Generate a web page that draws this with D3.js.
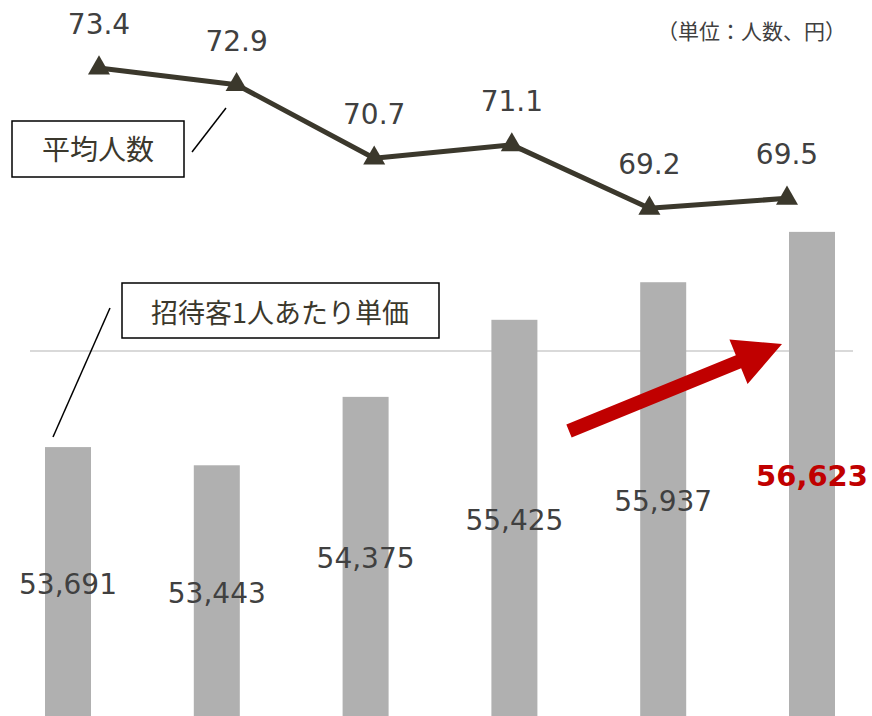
<!DOCTYPE html>
<html>
<head>
<meta charset="utf-8">
<script src="https://cdn.jsdelivr.net/npm/d3@7"></script>
<style>
  html, body { margin: 0; padding: 0; background: #fff; }
  svg { display: block; }
</style>
</head>
<body>
<svg id="chart" width="872" height="716"></svg>
<script>
// ---- data ----
const categories = ["1", "2", "3", "4", "5", "6"];
const unitPrice = [53691, 53443, 54375, 55425, 55937, 56623];
const avgGuests = [73.4, 72.9, 70.7, 71.1, 69.2, 69.5];
const gridValues = [55000];
const unitLabel = "（単位：人数、円）";
const lineLegend = "平均人数";
const barLegend = "招待客1人あたり単価";

// ---- layout ----
const W = 872, H = 716;
const svg = d3.select("#chart");
const numFont = "'DejaVu Sans', 'Noto Sans CJK JP', sans-serif";
const jpFont = "'Noto Sans CJK JP', 'DejaVu Sans', sans-serif";

const xBar = d3.scalePoint().domain(categories).range([68, 812]);
const yBar = d3.scaleLinear().domain([50000, 55000]).range([718, 351]);
const xLine = d3.scalePoint().domain(categories).range([99, 787]);
const yLine = d3.scaleLinear().domain([69, 74]).range([215, 48]);
const barW = 46;

// gridline
svg.selectAll("line.grid").data(gridValues).enter().append("line")
  .attr("x1", 30).attr("x2", 853)
  .attr("y1", d => yBar(d)).attr("y2", d => yBar(d))
  .attr("stroke", "#d9d9d9").attr("stroke-width", 2);

// bars
svg.selectAll("rect.bar").data(unitPrice).enter().append("rect")
  .attr("x", (d, i) => xBar(categories[i]) - barW / 2)
  .attr("y", d => yBar(d))
  .attr("width", barW)
  .attr("height", d => H + 10 - yBar(d))
  .attr("fill", "#b0b0b0");

// bar labels (centered within the bar)
const fmt = d3.format(",");
svg.selectAll("text.barlab").data(unitPrice).enter().append("text")
  .attr("x", (d, i) => xBar(categories[i]))
  .attr("y", d => (yBar(d) + H + 5) / 2)
  .attr("text-anchor", "middle")
  .attr("dominant-baseline", "central")
  .attr("font-family", numFont)
  .attr("font-size", (d, i) => i === unitPrice.length - 1 ? 29 : 28)
  .attr("font-weight", (d, i) => i === unitPrice.length - 1 ? "bold" : "normal")
  .attr("fill", (d, i) => i === unitPrice.length - 1 ? "#c00000" : "#404040")
  .text(d => fmt(d));

// line
const lineGen = d3.line()
  .x((d, i) => xLine(categories[i]))
  .y(d => yLine(d));
svg.append("path").datum(avgGuests)
  .attr("d", lineGen)
  .attr("fill", "none")
  .attr("stroke", "#3b382c")
  .attr("stroke-width", 5)
  .attr("stroke-linejoin", "round");

svg.selectAll("path.marker").data(avgGuests).enter().append("path")
  .attr("d", d3.symbol(d3.symbolTriangle, 210))
  .attr("transform", (d, i) => `translate(${xLine(categories[i])},${yLine(d)})`)
  .attr("fill", "#3b382c");

svg.selectAll("text.linelab").data(avgGuests).enter().append("text")
  .attr("x", (d, i) => xLine(categories[i]))
  .attr("y", d => yLine(d) - 34)
  .attr("text-anchor", "middle")
  .attr("font-family", numFont)
  .attr("font-size", 28)
  .attr("fill", "#404040")
  .text(d => d.toFixed(1));

// unit label
svg.append("text")
  .attr("x", 846).attr("y", 30)
  .attr("text-anchor", "end")
  .attr("dominant-baseline", "central")
  .attr("font-family", jpFont)
  .attr("font-size", 21)
  .attr("fill", "#404040")
  .text(unitLabel);

// legend box: line
svg.append("rect").attr("x", 12).attr("y", 121).attr("width", 172).attr("height", 56)
  .attr("fill", "#fff").attr("stroke", "#000").attr("stroke-width", 1.5);
svg.append("text").attr("x", 98).attr("y", 148)
  .attr("text-anchor", "middle").attr("dominant-baseline", "central")
  .attr("font-family", jpFont).attr("font-size", 28).attr("fill", "#3b382c")
  .text(lineLegend);
svg.append("line").attr("x1", 192).attr("y1", 152).attr("x2", 226).attr("y2", 108)
  .attr("stroke", "#000").attr("stroke-width", 1.5);

// legend box: bar
svg.append("rect").attr("x", 122).attr("y", 283).attr("width", 317).attr("height", 55)
  .attr("fill", "#fff").attr("stroke", "#000").attr("stroke-width", 1.5);
svg.append("text").attr("x", 280).attr("y", 311)
  .attr("text-anchor", "middle").attr("dominant-baseline", "central")
  .attr("font-family", jpFont).attr("font-size", 27).attr("fill", "#3b382c")
  .text(barLegend);
svg.append("line").attr("x1", 110).attr("y1", 308).attr("x2", 53).attr("y2", 437)
  .attr("stroke", "#000").attr("stroke-width", 1.5);

// red arrow
(function () {
  const x0 = 569, y0 = 431, x1 = 782, y1 = 344;
  const dx = x1 - x0, dy = y1 - y0, L = Math.hypot(dx, dy);
  const ux = dx / L, uy = dy / L, px = -uy, py = ux;
  const sw = 7, hw = 24, hl = 47;
  const bx = x1 - ux * hl, by = y1 - uy * hl;
  const pts = [
    [x0 + px * sw, y0 + py * sw],
    [bx + px * sw, by + py * sw],
    [bx + px * hw, by + py * hw],
    [x1, y1],
    [bx - px * hw, by - py * hw],
    [bx - px * sw, by - py * sw],
    [x0 - px * sw, y0 - py * sw]
  ];
  svg.append("path").attr("d", d3.line()(pts) + "Z").attr("fill", "#c00000");
})();
</script>
</body>
</html>
